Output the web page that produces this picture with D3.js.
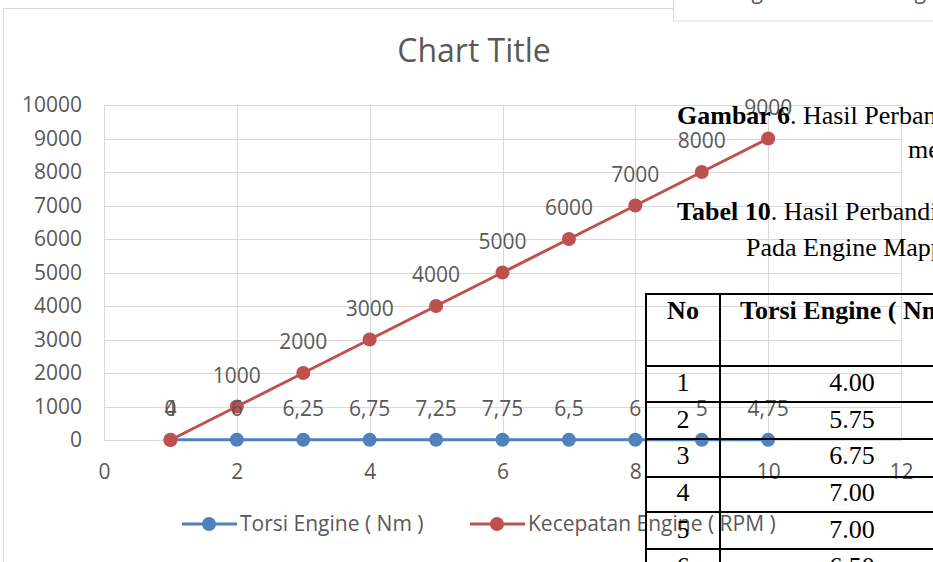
<!DOCTYPE html>
<html>
<head>
<meta charset="utf-8">
<script src="https://cdn.jsdelivr.net/npm/d3@7"></script>
<style>
  body { margin: 0; background: #fff; }
  svg { display: block; }
</style>
</head>
<body>
<svg width="933" height="562"></svg>
<script>
// chart data
var xVals = [1, 2, 3, 4, 5, 6, 7, 8, 9, 10];
var torsi = [4, 6, 6.25, 6.75, 7.25, 7.75, 6.5, 6, 5, 4.75];
var kecepatan = [0, 1000, 2000, 3000, 4000, 5000, 6000, 7000, 8000, 9000];
var xTicks = [0, 2, 4, 6, 8, 10, 12];
var yTicks = [0, 1000, 2000, 3000, 4000, 5000, 6000, 7000, 8000, 9000, 10000];
var seriesNames = ["Torsi Engine ( Nm )", "Kecepatan Engine ( RPM )"];

// document table that sits over the chart
var tableNo = ["1", "2", "3", "4", "5", "6"];
var tableTorsi = ["4.00", "5.75", "6.75", "7.00", "7.00", "6.50"];

var svg = d3.select("svg");
var blue = "#4f81bd", red = "#c0504d", grey = "#595959", grid = "#d9d9d9";
var sans = "'Open Sans', sans-serif";
var serif = "'Liberation Serif', 'Times New Roman', serif";

var x = d3.scaleLinear().domain([0, 12]).range([104, 901]);
var y = d3.scaleLinear().domain([0, 10000]).range([440, 105]);

// chart area border
svg.append("rect")
    .attr("x", 3.5).attr("y", 8.5)
    .attr("width", 960).attr("height", 600)
    .attr("fill", "#fff").attr("stroke", grid);

svg.append("text")
    .attr("x", 474).attr("y", 62)
    .attr("text-anchor", "middle")
    .attr("font-family", sans).attr("font-size", 32)
    .attr("fill", grey)
    .text("Chart Title");

// gridlines
svg.append("g").selectAll("line").data(yTicks).enter().append("line")
    .attr("x1", x(0)).attr("x2", x(12))
    .attr("y1", function(d) { return Math.round(y(d)) + 0.5; })
    .attr("y2", function(d) { return Math.round(y(d)) + 0.5; })
    .attr("stroke", grid);
svg.append("g").selectAll("line").data(xTicks).enter().append("line")
    .attr("y1", y(0)).attr("y2", y(10000))
    .attr("x1", function(d) { return Math.round(x(d)) + 0.5; })
    .attr("x2", function(d) { return Math.round(x(d)) + 0.5; })
    .attr("stroke", grid);

// axes
var yAxis = svg.append("g")
    .attr("transform", "translate(" + x(0) + ",0)")
    .call(d3.axisLeft(y).tickValues(yTicks).tickFormat(d3.format("d")).tickSize(0).tickPadding(22));
var xAxis = svg.append("g")
    .attr("transform", "translate(0," + y(0) + ")")
    .call(d3.axisBottom(x).tickValues(xTicks).tickSize(0).tickPadding(24));
[yAxis, xAxis].forEach(function(a) {
  a.select(".domain").attr("stroke", grid);
  a.selectAll("text").attr("font-family", sans).attr("font-size", 21).attr("fill", grey);
});
yAxis.select(".domain").remove();

var pts = function(vals) {
  return xVals.map(function(d, i) { return [d, vals[i]]; });
};
var line = d3.line()
    .x(function(d) { return x(d[0]); })
    .y(function(d) { return y(d[1]); });

var series = [torsi, kecepatan];
var colors = [blue, red];

series.forEach(function(vals, k) {
  svg.append("path")
      .attr("d", line(pts(vals)))
      .attr("fill", "none")
      .attr("stroke", colors[k])
      .attr("stroke-width", 3);
  svg.append("g").selectAll("circle").data(pts(vals)).enter().append("circle")
      .attr("cx", function(d) { return x(d[0]); })
      .attr("cy", function(d) { return y(d[1]); })
      .attr("r", 7)
      .attr("fill", colors[k]);
});

// data labels
series.forEach(function(vals, k) {
  svg.append("g").selectAll("text").data(pts(vals)).enter().append("text")
      .attr("x", function(d) { return x(d[0]); })
      .attr("y", function(d) { return y(d[1]) - 24; })
      .attr("text-anchor", "middle")
      .attr("font-family", sans).attr("font-size", 21)
      .attr("fill", grey)
      .text(function(d) { return String(d[1]).replace(".", ","); });
});

// legend
var legX = [182, 470];
seriesNames.forEach(function(name, k) {
  var g = svg.append("g");
  g.append("line")
      .attr("x1", legX[k]).attr("x2", legX[k] + 55)
      .attr("y1", 524).attr("y2", 524)
      .attr("stroke", colors[k]).attr("stroke-width", 3);
  g.append("circle")
      .attr("cx", legX[k] + 27).attr("cy", 524).attr("r", 7)
      .attr("fill", colors[k]);
  g.append("text")
      .attr("x", legX[k] + 58).attr("y", 531)
      .attr("font-family", sans).attr("font-size", 21)
      .attr("fill", grey)
      .text(name);
});

// box from page above, only the bottom of its text shows
svg.append("rect")
    .attr("x", 673.5).attr("y", -5)
    .attr("width", 300).attr("height", 26)
    .attr("fill", "#fff").attr("stroke", grid);
[727, 890].forEach(function(px) {
  svg.append("text")
      .attr("x", px).attr("y", -1)
      .attr("font-family", sans).attr("font-size", 21).attr("fill", grey)
      .text("Engine");
});

// caption text of the page
var cap = svg.append("g").attr("font-family", serif).attr("font-size", 26).attr("fill", "#000");
var t1 = cap.append("text").attr("x", 677).attr("y", 124);
t1.append("tspan").attr("font-weight", "bold").text("Gambar 6");
t1.append("tspan").text(". Hasil Perbandingan");
cap.append("text").attr("x", 908).attr("y", 158).text("menggunakan");
var t2 = cap.append("text").attr("x", 677).attr("y", 220);
t2.append("tspan").attr("font-weight", "bold").text("Tabel 10");
t2.append("tspan").text(". Hasil Perbandingan");
cap.append("text").attr("x", 746).attr("y", 256).text("Pada Engine Mapping");

// table lines
var rowLines = [294, 366, 402, 439, 477, 512, 549];
var colLines = [646, 720];
var tbl = svg.append("g").attr("stroke", "#000").attr("stroke-width", 2);
tbl.selectAll(".h").data(rowLines).enter().append("line")
    .attr("x1", 645).attr("x2", 933)
    .attr("y1", function(d) { return d; }).attr("y2", function(d) { return d; });
tbl.selectAll(".v").data(colLines).enter().append("line")
    .attr("y1", 293).attr("y2", 562)
    .attr("x1", function(d) { return d; }).attr("x2", function(d) { return d; });

cap.append("text").attr("x", 683).attr("y", 319).attr("text-anchor", "middle")
    .attr("font-weight", "bold").text("No");
cap.append("text").attr("x", 740).attr("y", 319)
    .attr("font-weight", "bold").text("Torsi Engine ( Nm )");

cap.append("g").selectAll("text").data(tableNo).enter().append("text")
    .attr("x", 683)
    .attr("y", function(d, i) { return 391 + i * 36.7; })
    .attr("text-anchor", "middle")
    .text(function(d) { return d; });
cap.append("g").selectAll("text").data(tableTorsi).enter().append("text")
    .attr("x", 852)
    .attr("y", function(d, i) { return 391 + i * 36.7; })
    .attr("text-anchor", "middle")
    .text(function(d) { return d; });
</script>
</body>
</html>
